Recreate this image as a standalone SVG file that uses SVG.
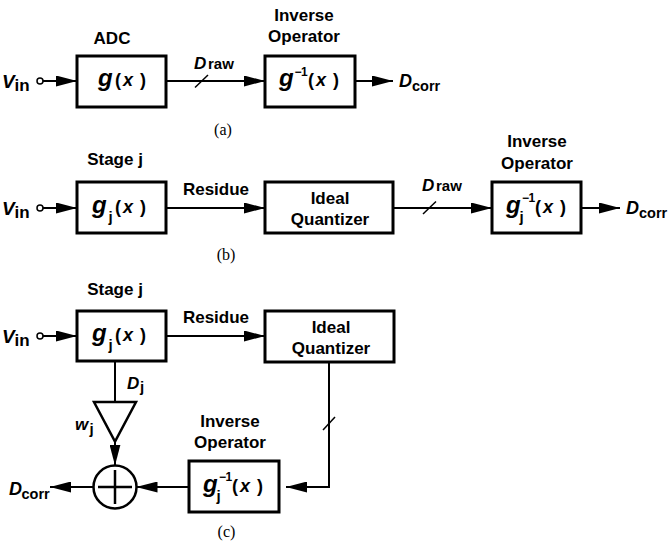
<svg xmlns="http://www.w3.org/2000/svg" width="668" height="543" viewBox="0 0 668 543">
<defs>
<style>
.lbl{font-family:"Liberation Sans",Arial,sans-serif;font-weight:bold;font-size:17px;text-anchor:middle;fill:#000}
.t{font-family:"Liberation Sans",Arial,sans-serif;font-weight:bold;fill:#000}
.it{font-style:italic}
.cap{font-family:"Liberation Serif","Times New Roman",serif;font-size:16px;text-anchor:middle;fill:#000}
.box{fill:#fff;stroke:#000;stroke-width:3}
.wire{fill:none;stroke:#000;stroke-width:2}
.arr{fill:none;stroke:#000;stroke-width:2;marker-end:url(#ah)}
.slash{stroke:#000;stroke-width:1.5}
.pin{fill:#fff;stroke:#000;stroke-width:1.5}
.sup{font-size:12px;letter-spacing:-0.5px}
</style>
<marker id="ah" markerUnits="userSpaceOnUse" markerWidth="21" markerHeight="11" refX="21" refY="5.5" orient="auto">
<path d="M0,0 L21,5.5 L0,11 z" fill="#000"/>
</marker>
</defs>
<rect width="668" height="543" fill="#fff"/>

<g id="connectors">
<!-- (a) -->
<line class="arr" x1="43" y1="81" x2="77" y2="81"/>
<line class="arr" x1="166" y1="81" x2="265" y2="81"/>
<line class="slash" x1="195" y1="87.5" x2="208" y2="75"/>
<line class="arr" x1="355" y1="81" x2="393" y2="81"/>
<!-- (b) -->
<line class="arr" x1="43" y1="208" x2="77" y2="208"/>
<line class="arr" x1="166" y1="208" x2="265" y2="208"/>
<line class="arr" x1="393" y1="208" x2="492" y2="208"/>
<line class="slash" x1="423" y1="214" x2="436" y2="201.5"/>
<line class="arr" x1="581" y1="208" x2="620" y2="208"/>
<!-- (c) -->
<line class="arr" x1="43" y1="336" x2="77" y2="336"/>
<line class="arr" x1="166" y1="336" x2="265" y2="336"/>
<polyline class="arr" points="329,362 329,487 286,487"/>
<line class="slash" x1="323" y1="430" x2="335" y2="417"/>
<line class="arr" x1="189" y1="487" x2="136.5" y2="487"/>
<line class="arr" x1="93.5" y1="487" x2="50" y2="487"/>
<line class="wire" x1="115" y1="361" x2="115" y2="402"/>
<line class="arr" x1="115" y1="441.5" x2="115" y2="465.5"/>
</g>

<!-- ===== (a) ===== -->
<g id="vin-a">
<circle class="pin" cx="40" cy="81" r="3"/>
<text class="t it" x="2" y="87.5" font-size="19">V</text>
<text class="t" x="14.5" y="90.5" font-size="17">in</text>
</g>
<g id="adc-a">
<text class="lbl" x="112" y="43.5">ADC</text>
<rect class="box" x="77" y="56" width="89" height="51"/>
<text class="t it" x="98" y="86" font-size="24">g</text>
<text class="t" y="86" font-size="18"><tspan x="115">(</tspan><tspan class="it" x="123">x</tspan><tspan x="140">)</tspan></text>
</g>
<g id="draw-a">
<text class="t it" x="194" y="68.5" font-size="17">D</text>
<text class="t" x="208" y="68.5" font-size="15">raw</text>
</g>
<g id="inv-a">
<text class="lbl" x="304" y="20.5">Inverse</text>
<text class="lbl" x="304" y="42">Operator</text>
<rect class="box" x="265" y="56" width="90" height="51"/>
<text class="t it" x="279" y="86" font-size="24">g</text>
<text class="t sup" x="294.5" y="75.5">−1</text>
<text class="t" y="86" font-size="18"><tspan x="308">(</tspan><tspan class="it" x="316">x</tspan><tspan x="333">)</tspan></text>
</g>
<g id="dcorr-a">
<text class="t it" x="399" y="86.5" font-size="18">D</text>
<text class="t" x="412" y="91" font-size="14.5">corr</text>
</g>
<text class="cap" x="223" y="134.5">(a)</text>

<!-- ===== (b) ===== -->
<g id="vin-b">
<circle class="pin" cx="40" cy="208" r="3"/>
<text class="t it" x="2" y="214.5" font-size="19">V</text>
<text class="t" x="14.5" y="217.5" font-size="17">in</text>
</g>
<g id="stage-b">
<text class="lbl" x="115" y="165">Stage j</text>
<rect class="box" x="77" y="182" width="89" height="51"/>
<text class="t it" x="92" y="213" font-size="24">g</text>
<text class="t" x="108.5" y="222" font-size="15">j</text>
<text class="t" y="213" font-size="18"><tspan x="115">(</tspan><tspan class="it" x="123">x</tspan><tspan x="140">)</tspan></text>
</g>
<text class="lbl" x="216" y="195">Residue</text>
<g id="quant-b">
<rect class="box" x="265" y="182" width="128" height="51"/>
<text class="lbl" x="330" y="203.5">Ideal</text>
<text class="lbl" x="330" y="224.5">Quantizer</text>
</g>
<g id="draw-b">
<text class="t it" x="422" y="190.5" font-size="17">D</text>
<text class="t" x="436" y="190.5" font-size="15">raw</text>
</g>
<g id="inv-b">
<text class="lbl" x="537" y="147">Inverse</text>
<text class="lbl" x="537" y="168.5">Operator</text>
<rect class="box" x="492" y="182" width="89" height="51"/>
<text class="t it" x="506" y="213" font-size="24">g</text>
<text class="t" x="519.5" y="222" font-size="15">j</text>
<text class="t sup" x="522" y="201.5">−1</text>
<text class="t" y="213" font-size="18"><tspan x="535">(</tspan><tspan class="it" x="543">x</tspan><tspan x="560">)</tspan></text>
</g>
<g id="dcorr-b">
<text class="t it" x="626" y="213.5" font-size="18">D</text>
<text class="t" x="639" y="218" font-size="14.5">corr</text>
</g>
<text class="cap" x="226" y="260">(b)</text>

<!-- ===== (c) ===== -->
<g id="vin-c">
<circle class="pin" cx="40" cy="336" r="3"/>
<text class="t it" x="2" y="342.5" font-size="19">V</text>
<text class="t" x="14.5" y="345.5" font-size="17">in</text>
</g>
<g id="stage-c">
<text class="lbl" x="115" y="295">Stage j</text>
<rect class="box" x="77" y="311" width="89" height="50"/>
<text class="t it" x="92" y="341" font-size="24">g</text>
<text class="t" x="108.5" y="350" font-size="15">j</text>
<text class="t" y="341" font-size="18"><tspan x="115">(</tspan><tspan class="it" x="123">x</tspan><tspan x="140">)</tspan></text>
</g>
<text class="lbl" x="216" y="323">Residue</text>
<g id="quant-c">
<rect class="box" x="265" y="311" width="129" height="51"/>
<text class="lbl" x="331" y="332.5">Ideal</text>
<text class="lbl" x="331" y="353.5">Quantizer</text>
</g>
<g id="dj-c">
<text class="t it" x="127" y="389" font-size="17">D</text>
<text class="t" x="140" y="392" font-size="15">j</text>
</g>
<g id="gain-c">
<polygon points="94,402 136,402 115,441.5" fill="#fff" stroke="#000" stroke-width="2.5"/>
<text class="t it" x="75" y="430" font-size="17">w</text>
<text class="t" x="89.5" y="433.5" font-size="15">j</text>
</g>
<g id="sum-c">
<circle cx="115" cy="487" r="21.5" fill="#fff" stroke="#000" stroke-width="2.5"/>
<line x1="98" y1="487" x2="132" y2="487" stroke="#000" stroke-width="2.5"/>
<line x1="115" y1="470" x2="115" y2="504" stroke="#000" stroke-width="2.5"/>
</g>
<g id="inv-c">
<text class="lbl" x="230" y="427">Inverse</text>
<text class="lbl" x="230" y="448">Operator</text>
<rect class="box" x="189" y="461" width="90" height="51"/>
<text class="t it" x="203" y="492" font-size="24">g</text>
<text class="t" x="216.5" y="501" font-size="15">j</text>
<text class="t sup" x="219" y="480.5">−1</text>
<text class="t" y="492" font-size="18"><tspan x="232">(</tspan><tspan class="it" x="240">x</tspan><tspan x="257">)</tspan></text>
</g>
<g id="dcorr-c">
<text class="t it" x="9" y="495" font-size="18">D</text>
<text class="t" x="21.5" y="498.5" font-size="14.5">corr</text>
</g>
<text class="cap" x="226.5" y="537">(c)</text>
</svg>
